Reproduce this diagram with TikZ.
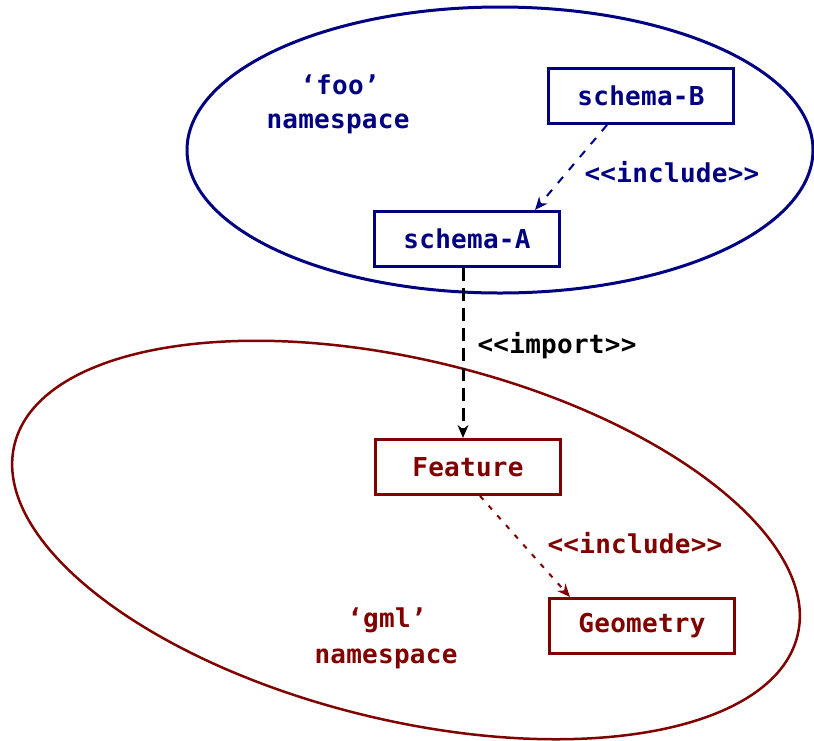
\documentclass[tikz,border=0pt]{standalone}
\usepackage{fontspec}
\usetikzlibrary{arrows.meta}
\newfontfamily\pix[LetterSpace=1]{DejaVu Sans Mono Bold}
\definecolor{navyb}{RGB}{0,0,128}
\definecolor{maroonr}{RGB}{128,0,0}
\begin{document}
\begin{tikzpicture}[x=1pt,y=-1pt,
  every node/.style={font=\pix\fontsize{26}{30}\selectfont, inner sep=0pt},
  classbox/.style={draw, line width=3pt, minimum width=185pt, minimum height=55pt},
  arr/.style={-{Stealth[length=13pt,width=11pt]}},
]
\useasboundingbox (0,0) rectangle (814,740);
% namespaces
\draw[navyb, line width=3pt] (500,150) ellipse [x radius=313pt, y radius=143pt];
\draw[maroonr, line width=2.5pt, rotate around={-13.7:(406,540)}] (406,540) ellipse [x radius=403pt, y radius=180pt];

\node[navyb] (foo1) at (340,85) {‘foo’};
\node[navyb] (foo2) at (338,124) {namespace};
\node[maroonr] (gml1) at (387,620) {‘gml’};
\node[maroonr] (gml2) at (386,659) {namespace};

\node[classbox, navyb] (B) at (641,96) {schema-B};
\node[classbox, navyb] (A) at (467,239) {schema-A};
\node[classbox, maroonr] (F) at (468,467) {Feature};
\node[classbox, maroonr] (G) at (642,626) {Geometry};

\draw[navyb, line width=2pt, dash pattern=on 8pt off 9pt, arr]
  ([xshift=-34pt]B.south) -- ([xshift=68pt]A.north);
\node[navyb] (inc1) at (672,172) {<{}<include>{}>};

\draw[black, line width=3pt, dash pattern=on 13pt off 7pt, arr]
  ([xshift=-4pt]A.south) -- ([xshift=-5pt]F.north);
\node[black] (imp) at (557,346) {<{}<import>{}>};

\draw[maroonr, line width=2pt, dash pattern=on 5pt off 8pt, arr]
  ([xshift=12pt]F.south) -- ([xshift=-72pt]G.north);
\node[maroonr] (inc2) at (635,543) {<{}<include>{}>};
\end{tikzpicture}
\end{document}
